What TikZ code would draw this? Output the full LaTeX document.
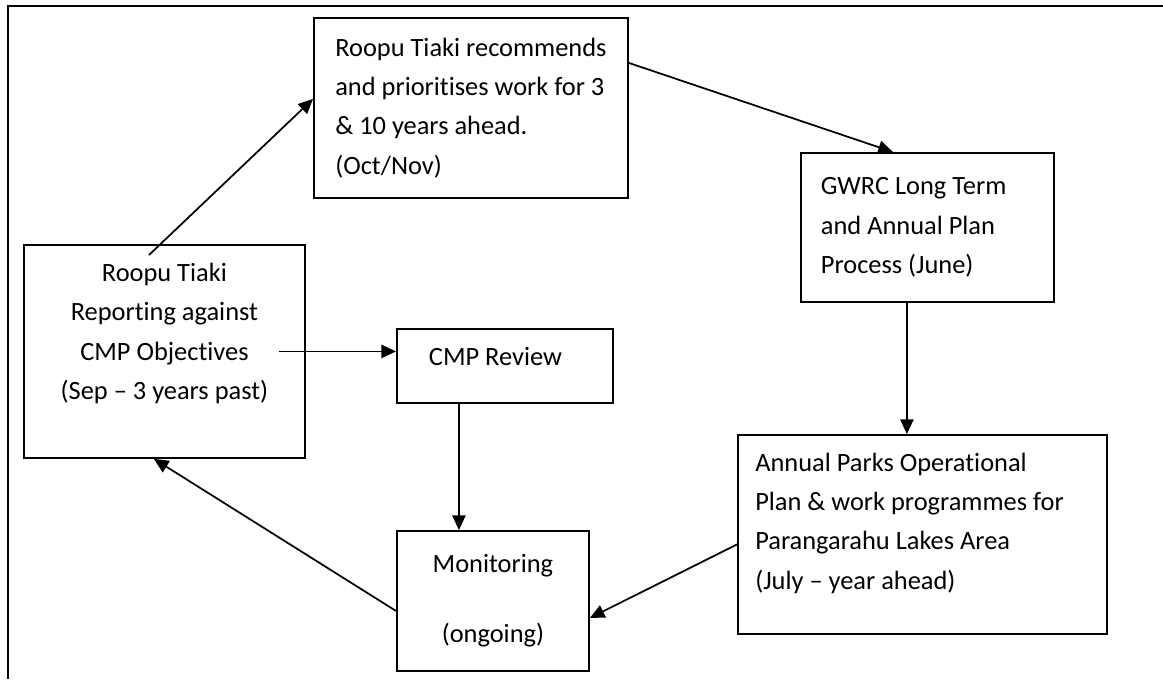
\documentclass[tikz,border=0pt]{standalone}
\usepackage{fontspec}
\setmainfont{Carlito}[Ligatures=NoCommon]
\usetikzlibrary{arrows.meta}

\tikzset{
  stage/.style={draw, line width=1.4pt, anchor=north west, inner xsep=13pt, inner ysep=0pt,
    align=left, font=\fontsize{19.8}{29.5}\selectfont},
  flow/.style={line width=1.3pt, -{Triangle[length=11pt,width=10pt]}},
  frame/.style={line width=1.5pt}
}

\begin{document}
\begin{tikzpicture}[x=0.75pt,y=-0.75pt]
\useasboundingbox (0,0) rectangle (1163,679);
\draw[frame] (1163,6) -- (8,6) -- (8,679);

\node[stage,minimum width=235.5pt,minimum height=135pt] (recommend) at (313,17)
  {Roopu Tiaki recommends\\and prioritises work for 3\\\& 10 years ahead.\\(Oct/Nov)};
\node[stage,align=flush left,inner xsep=15pt,text width=159.75pt,minimum height=111.75pt] (ltp) at (800,152)
  {GWRC Long Term\\and Annual Plan\\Process (June)};
\node[stage,align=center,minimum width=210.75pt,minimum height=159.75pt] (report) at (23,244)
  {Roopu Tiaki\\Reporting against\\CMP Objectives\\(Sep – 3 years past)\rule[-30pt]{0pt}{0pt}};
\node[stage,align=flush left,inner xsep=24pt,text width=114pt,minimum height=55.5pt] (review) at (396,328)
  {CMP Review\rule[-15pt]{0pt}{0pt}};
\node[stage,align=center,minimum width=144pt,minimum height=105pt] (monitor) at (396,530)
  {Monitoring\\[23pt](ongoing)};
\node[stage,align=flush left,text width=250.75pt,minimum height=149.25pt] (opplan) at (737,434)
  {Annual Parks Operational\\Plan \& work programmes for\\Parangarahu Lakes Area\\(July – year ahead)\rule[-20pt]{0pt}{0pt}};

\draw[flow] ([xshift=-11.6pt,yshift=-8.25pt]report.north) -- ([yshift=6.75pt]recommend.west);
\draw[flow] ([yshift=33.75pt]recommend.east) -- ([xshift=-25.9pt]ltp.north);
\draw[flow] ([xshift=-15.4pt]ltp.south) -- ([xshift=-15.4pt]ltp.south |- opplan.north);
\draw[flow] ([yshift=-7.5pt]opplan.west) -- ([yshift=-12.75pt]monitor.east);
\draw[flow] ([yshift=-7.5pt]monitor.west) -- ([xshift=-7.9pt]report.south);
\draw[flow] ([xshift=-20.25pt]report.east) -- (report.east -| review.west);
\draw[flow] ([xshift=-34.5pt]review.south) -- ([xshift=-34.5pt]review.south |- monitor.north);
\end{tikzpicture}
\end{document}
